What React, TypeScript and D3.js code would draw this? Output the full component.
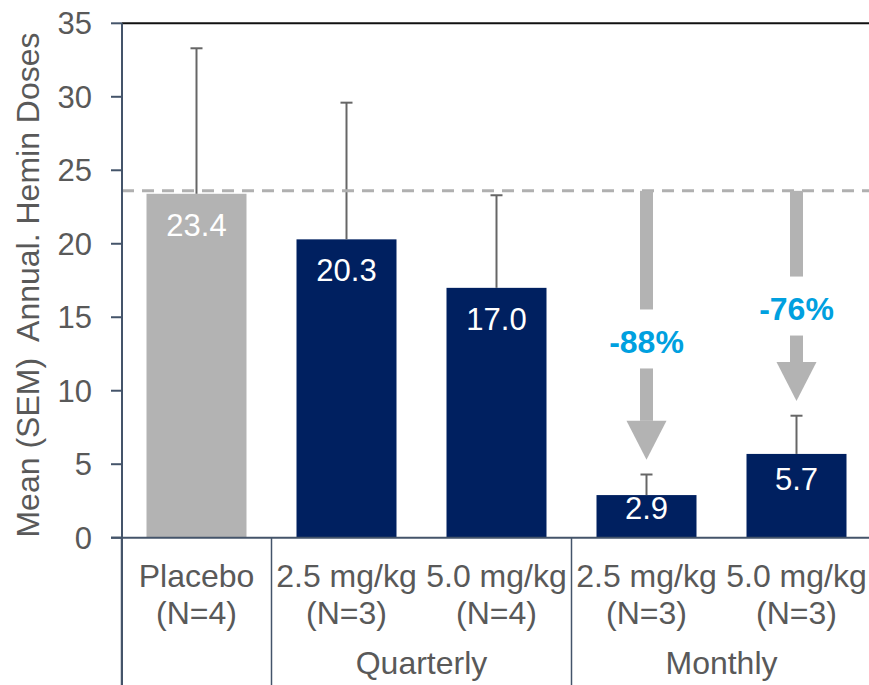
import React from 'react';
import * as d3 from 'd3';

const categoryIds = ['placebo', 'q25', 'q50', 'm25', 'm50'];
const doseLabels = ['Placebo', '2.5 mg/kg', '5.0 mg/kg', '2.5 mg/kg', '5.0 mg/kg'];
const nLabels = ['(N=4)', '(N=3)', '(N=4)', '(N=3)', '(N=3)'];
const groupOf = ['', 'Quarterly', 'Quarterly', 'Monthly', 'Monthly'];
const means = [23.4, 20.3, 17.0, 2.9, 5.7];
const sems = [9.9, 9.3, 6.3, 1.4, 2.6];
const yTicks = [0, 5, 10, 15, 20, 25, 30, 35];
const referenceValue = 23.6;
const arrowTargets = ['m25', 'm50'];

const W = 869;
const H = 685;
const FONT = '"Liberation Sans", Arial, sans-serif';
const AXIS = '#44546A';
const TEXT = '#595959';
const NAVY = '#002060';
const GREY = '#B3B3B3';

const App: React.FC = () => {
  const y = d3.scaleLinear().domain([0, 35]).range([537.7, 23.3]);
  const x = d3.scaleBand<string>()
    .domain(categoryIds)
    .range([121.5, 871.5])
    .paddingInner(1 / 3)
    .paddingOuter(1 / 6);
  const step = x.step();
  const bw = x.bandwidth();
  const left = (id: string) => (x(id) || 0) - (step - bw) / 2;

  // boundaries below the axis: before first category, where groups change, and at the end
  const seps: number[] = [];
  categoryIds.forEach((id, i) => {
    if (i === 0 || groupOf[i] !== groupOf[i - 1]) seps.push(left(id));
  });
  seps.push(left(categoryIds[categoryIds.length - 1]) + step);

  const groups = Array.from(new Set(groupOf.filter(g => g)));

  const y0 = y(0);
  const yRef = y(referenceValue);

  return (
    <>
      <style>{`body{margin:0}`}</style>
      <svg width={W} height={H} style={{ display: 'block', fontFamily: FONT }}>
        <rect width={W} height={H} fill="#fff" />

        {/* bars */}
        {categoryIds.map((id, i) => (
          <rect key={id} x={x(id)} y={y(means[i])} width={bw} height={y0 - y(means[i])}
            fill={i === 0 ? GREY : NAVY} />
        ))}

        {/* error bars */}
        {categoryIds.map((id, i) => {
          const cx = (x(id) || 0) + bw / 2;
          const top = y(means[i] + sems[i]);
          return (
            <g key={id} stroke="#666" strokeWidth={2}>
              <line x1={cx} x2={cx} y1={y(means[i])} y2={top} />
              <line x1={cx - 6} x2={cx + 6} y1={top} y2={top} />
            </g>
          );
        })}

        {/* reference line */}
        <line x1={122} x2={W} y1={yRef} y2={yRef} stroke="#B0B0B0" strokeWidth={3} strokeDasharray="12 8" />

        {/* value labels */}
        {categoryIds.map((id, i) => {
          const top = y(means[i]);
          const h = y0 - top;
          return (
            <text key={id} x={(x(id) || 0) + bw / 2} y={top + Math.min(31, h * 0.3)} dy="0.35em"
              textAnchor="middle" fill="#fff" fontSize={31}>
              {means[i].toFixed(1)}
            </text>
          );
        })}

        {/* reduction arrows */}
        {arrowTargets.map(id => {
          const i = categoryIds.indexOf(id);
          const cx = (x(id) || 0) + bw / 2;
          const tip = y(means[i] + sems[i] + 1.0);
          const ty = yRef + 0.56 * (tip - yRef);
          const headStart = tip - 39;
          const pct = Math.round((1 - means[i] / means[0]) * 100);
          return (
            <g key={id}>
              <rect x={cx - 6.5} y={yRef} width={13} height={ty - 32 - yRef} fill={GREY} />
              <rect x={cx - 6.5} y={ty + 27} width={13} height={headStart - ty - 27} fill={GREY} />
              <path d={`M${cx - 20},${headStart}L${cx + 20},${headStart}L${cx},${tip}Z`} fill={GREY} />
              <text x={cx} y={ty} dy="0.35em" textAnchor="middle" fontSize={32} fontWeight="bold" fill="#00A0DF">
                {`-${pct}%`}
              </text>
            </g>
          );
        })}

        {/* top frame line */}
        <line x1={122} x2={W} y1={23.3} y2={23.3} stroke="#111" strokeWidth={2} />

        {/* y axis */}
        <line x1={122} x2={122} y1={23.3} y2={H} stroke={AXIS} strokeWidth={2} />
        {yTicks.map(t => (
          <g key={t}>
            <line x1={111} x2={122} y1={y(t)} y2={y(t)} stroke={AXIS} strokeWidth={2} />
            <text x={92} y={y(t)} dy="0.35em" textAnchor="end" fontSize={31} fill={TEXT}>{t}</text>
          </g>
        ))}

        {/* x axis */}
        <line x1={111} x2={W} y1={y0} y2={y0} stroke={AXIS} strokeWidth={2} />
        {seps.map(s => (
          <line key={s} x1={s} x2={s} y1={y0} y2={H} stroke={AXIS} strokeWidth={1.5} />
        ))}

        {/* category labels */}
        {categoryIds.map((id, i) => {
          const cx = (x(id) || 0) + bw / 2;
          return (
            <g key={id} fontSize={32} fill={TEXT} textAnchor="middle">
              <text x={cx} y={587}>{doseLabels[i]}</text>
              <text x={cx} y={624}>{nLabels[i]}</text>
            </g>
          );
        })}
        {groups.map(g => {
          const ids = categoryIds.filter((_, i) => groupOf[i] === g);
          const a = left(ids[0]);
          const b = left(ids[ids.length - 1]) + step;
          return (
            <text key={g} x={(a + b) / 2} y={674} textAnchor="middle" fontSize={32} fill={TEXT}>{g}</text>
          );
        })}

        {/* y axis title */}
        <text transform="translate(39,285) rotate(-90)" textAnchor="middle" fontSize={32} fill={TEXT}
          style={{ whiteSpace: 'pre' }}>
          {'Mean (SEM)  Annual. Hemin Doses'}
        </text>
      </svg>
    </>
  );
};

export default App;
